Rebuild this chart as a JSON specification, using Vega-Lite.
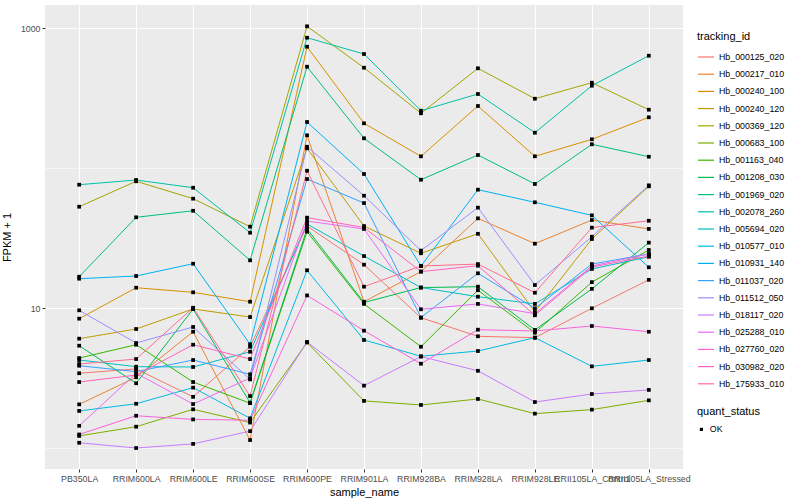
{
  "$schema": "https://vega.github.io/schema/vega-lite/v6.json",
  "autosize": "none",
  "width": 638,
  "height": 464,
  "padding": {"left": 45, "top": 5, "right": 117, "bottom": 31},
  "background": "white",
  "config": {
    "font": "Liberation Sans",
    "view": {"fill": "#EBEBEB", "stroke": null}
  },
  "datasets": {
    "expr": [
      {"tracking_id":"Hb_000125_020","sample_name":"PB350LA","fpkm":3.42,"quant_status":"OK"},
      {"tracking_id":"Hb_000125_020","sample_name":"RRIM600LA","fpkm":3.67,"quant_status":"OK"},
      {"tracking_id":"Hb_000125_020","sample_name":"RRIM600LE","fpkm":2.32,"quant_status":"OK"},
      {"tracking_id":"Hb_000125_020","sample_name":"RRIM600SE","fpkm":5.29,"quant_status":"OK"},
      {"tracking_id":"Hb_000125_020","sample_name":"RRIM600PE","fpkm":38.5,"quant_status":"OK"},
      {"tracking_id":"Hb_000125_020","sample_name":"RRIM901LA","fpkm":20.4,"quant_status":"OK"},
      {"tracking_id":"Hb_000125_020","sample_name":"RRIM928BA","fpkm":8.52,"quant_status":"OK"},
      {"tracking_id":"Hb_000125_020","sample_name":"RRIM928LA","fpkm":6.28,"quant_status":"OK"},
      {"tracking_id":"Hb_000125_020","sample_name":"RRIM928LE","fpkm":6.14,"quant_status":"OK"},
      {"tracking_id":"Hb_000125_020","sample_name":"RRII105LA_Control","fpkm":9.95,"quant_status":"OK"},
      {"tracking_id":"Hb_000125_020","sample_name":"RRII105LA_Stressed","fpkm":15.9,"quant_status":"OK"},
      {"tracking_id":"Hb_000217_010","sample_name":"PB350LA","fpkm":2.05,"quant_status":"OK"},
      {"tracking_id":"Hb_000217_010","sample_name":"RRIM600LA","fpkm":3.2,"quant_status":"OK"},
      {"tracking_id":"Hb_000217_010","sample_name":"RRIM600LE","fpkm":6.77,"quant_status":"OK"},
      {"tracking_id":"Hb_000217_010","sample_name":"RRIM600SE","fpkm":1.14,"quant_status":"OK"},
      {"tracking_id":"Hb_000217_010","sample_name":"RRIM600PE","fpkm":171.2,"quant_status":"OK"},
      {"tracking_id":"Hb_000217_010","sample_name":"RRIM901LA","fpkm":11.09,"quant_status":"OK"},
      {"tracking_id":"Hb_000217_010","sample_name":"RRIM928BA","fpkm":18.2,"quant_status":"OK"},
      {"tracking_id":"Hb_000217_010","sample_name":"RRIM928LA","fpkm":43.7,"quant_status":"OK"},
      {"tracking_id":"Hb_000217_010","sample_name":"RRIM928LE","fpkm":28.8,"quant_status":"OK"},
      {"tracking_id":"Hb_000217_010","sample_name":"RRII105LA_Control","fpkm":42.5,"quant_status":"OK"},
      {"tracking_id":"Hb_000217_010","sample_name":"RRII105LA_Stressed","fpkm":36.7,"quant_status":"OK"},
      {"tracking_id":"Hb_000240_100","sample_name":"PB350LA","fpkm":8.39,"quant_status":"OK"},
      {"tracking_id":"Hb_000240_100","sample_name":"RRIM600LA","fpkm":13.96,"quant_status":"OK"},
      {"tracking_id":"Hb_000240_100","sample_name":"RRIM600LE","fpkm":12.94,"quant_status":"OK"},
      {"tracking_id":"Hb_000240_100","sample_name":"RRIM600SE","fpkm":11.09,"quant_status":"OK"},
      {"tracking_id":"Hb_000240_100","sample_name":"RRIM600PE","fpkm":735.3,"quant_status":"OK"},
      {"tracking_id":"Hb_000240_100","sample_name":"RRIM901LA","fpkm":208.6,"quant_status":"OK"},
      {"tracking_id":"Hb_000240_100","sample_name":"RRIM928BA","fpkm":121.2,"quant_status":"OK"},
      {"tracking_id":"Hb_000240_100","sample_name":"RRIM928LA","fpkm":277.3,"quant_status":"OK"},
      {"tracking_id":"Hb_000240_100","sample_name":"RRIM928LE","fpkm":121.2,"quant_status":"OK"},
      {"tracking_id":"Hb_000240_100","sample_name":"RRII105LA_Control","fpkm":160.3,"quant_status":"OK"},
      {"tracking_id":"Hb_000240_100","sample_name":"RRII105LA_Stressed","fpkm":230.3,"quant_status":"OK"},
      {"tracking_id":"Hb_000240_120","sample_name":"PB350LA","fpkm":6.04,"quant_status":"OK"},
      {"tracking_id":"Hb_000240_120","sample_name":"RRIM600LA","fpkm":7.08,"quant_status":"OK"},
      {"tracking_id":"Hb_000240_120","sample_name":"RRIM600LE","fpkm":9.84,"quant_status":"OK"},
      {"tracking_id":"Hb_000240_120","sample_name":"RRIM600SE","fpkm":8.62,"quant_status":"OK"},
      {"tracking_id":"Hb_000240_120","sample_name":"RRIM600PE","fpkm":138.2,"quant_status":"OK"},
      {"tracking_id":"Hb_000240_120","sample_name":"RRIM901LA","fpkm":38.5,"quant_status":"OK"},
      {"tracking_id":"Hb_000240_120","sample_name":"RRIM928BA","fpkm":24.6,"quant_status":"OK"},
      {"tracking_id":"Hb_000240_120","sample_name":"RRIM928LA","fpkm":33.9,"quant_status":"OK"},
      {"tracking_id":"Hb_000240_120","sample_name":"RRIM928LE","fpkm":9.36,"quant_status":"OK"},
      {"tracking_id":"Hb_000240_120","sample_name":"RRII105LA_Control","fpkm":31.1,"quant_status":"OK"},
      {"tracking_id":"Hb_000240_120","sample_name":"RRII105LA_Stressed","fpkm":74,"quant_status":"OK"},
      {"tracking_id":"Hb_000369_120","sample_name":"PB350LA","fpkm":52.9,"quant_status":"OK"},
      {"tracking_id":"Hb_000369_120","sample_name":"RRIM600LA","fpkm":80.4,"quant_status":"OK"},
      {"tracking_id":"Hb_000369_120","sample_name":"RRIM600LE","fpkm":60.4,"quant_status":"OK"},
      {"tracking_id":"Hb_000369_120","sample_name":"RRIM600SE","fpkm":38.1,"quant_status":"OK"},
      {"tracking_id":"Hb_000369_120","sample_name":"RRIM600PE","fpkm":1028,"quant_status":"OK"},
      {"tracking_id":"Hb_000369_120","sample_name":"RRIM901LA","fpkm":520.5,"quant_status":"OK"},
      {"tracking_id":"Hb_000369_120","sample_name":"RRIM928BA","fpkm":245.9,"quant_status":"OK"},
      {"tracking_id":"Hb_000369_120","sample_name":"RRIM928LA","fpkm":515.4,"quant_status":"OK"},
      {"tracking_id":"Hb_000369_120","sample_name":"RRIM928LE","fpkm":312.6,"quant_status":"OK"},
      {"tracking_id":"Hb_000369_120","sample_name":"RRII105LA_Control","fpkm":406.7,"quant_status":"OK"},
      {"tracking_id":"Hb_000369_120","sample_name":"RRII105LA_Stressed","fpkm":260.9,"quant_status":"OK"},
      {"tracking_id":"Hb_000683_100","sample_name":"PB350LA","fpkm":1.22,"quant_status":"OK"},
      {"tracking_id":"Hb_000683_100","sample_name":"RRIM600LA","fpkm":1.42,"quant_status":"OK"},
      {"tracking_id":"Hb_000683_100","sample_name":"RRIM600LE","fpkm":1.89,"quant_status":"OK"},
      {"tracking_id":"Hb_000683_100","sample_name":"RRIM600SE","fpkm":1.52,"quant_status":"OK"},
      {"tracking_id":"Hb_000683_100","sample_name":"RRIM600PE","fpkm":5.67,"quant_status":"OK"},
      {"tracking_id":"Hb_000683_100","sample_name":"RRIM901LA","fpkm":2.17,"quant_status":"OK"},
      {"tracking_id":"Hb_000683_100","sample_name":"RRIM928BA","fpkm":2.03,"quant_status":"OK"},
      {"tracking_id":"Hb_000683_100","sample_name":"RRIM928LA","fpkm":2.24,"quant_status":"OK"},
      {"tracking_id":"Hb_000683_100","sample_name":"RRIM928LE","fpkm":1.76,"quant_status":"OK"},
      {"tracking_id":"Hb_000683_100","sample_name":"RRII105LA_Control","fpkm":1.88,"quant_status":"OK"},
      {"tracking_id":"Hb_000683_100","sample_name":"RRII105LA_Stressed","fpkm":2.19,"quant_status":"OK"},
      {"tracking_id":"Hb_001163_040","sample_name":"PB350LA","fpkm":4.39,"quant_status":"OK"},
      {"tracking_id":"Hb_001163_040","sample_name":"RRIM600LA","fpkm":5.47,"quant_status":"OK"},
      {"tracking_id":"Hb_001163_040","sample_name":"RRIM600LE","fpkm":2.96,"quant_status":"OK"},
      {"tracking_id":"Hb_001163_040","sample_name":"RRIM600SE","fpkm":2.09,"quant_status":"OK"},
      {"tracking_id":"Hb_001163_040","sample_name":"RRIM600PE","fpkm":35.1,"quant_status":"OK"},
      {"tracking_id":"Hb_001163_040","sample_name":"RRIM901LA","fpkm":10.7,"quant_status":"OK"},
      {"tracking_id":"Hb_001163_040","sample_name":"RRIM928BA","fpkm":5.29,"quant_status":"OK"},
      {"tracking_id":"Hb_001163_040","sample_name":"RRIM928LA","fpkm":13.4,"quant_status":"OK"},
      {"tracking_id":"Hb_001163_040","sample_name":"RRIM928LE","fpkm":6.66,"quant_status":"OK"},
      {"tracking_id":"Hb_001163_040","sample_name":"RRII105LA_Control","fpkm":15.3,"quant_status":"OK"},
      {"tracking_id":"Hb_001163_040","sample_name":"RRII105LA_Stressed","fpkm":25.96,"quant_status":"OK"},
      {"tracking_id":"Hb_001208_030","sample_name":"PB350LA","fpkm":5.38,"quant_status":"OK"},
      {"tracking_id":"Hb_001208_030","sample_name":"RRIM600LA","fpkm":2.9,"quant_status":"OK"},
      {"tracking_id":"Hb_001208_030","sample_name":"RRIM600LE","fpkm":9.84,"quant_status":"OK"},
      {"tracking_id":"Hb_001208_030","sample_name":"RRIM600SE","fpkm":2.11,"quant_status":"OK"},
      {"tracking_id":"Hb_001208_030","sample_name":"RRIM600PE","fpkm":36.7,"quant_status":"OK"},
      {"tracking_id":"Hb_001208_030","sample_name":"RRIM901LA","fpkm":10.95,"quant_status":"OK"},
      {"tracking_id":"Hb_001208_030","sample_name":"RRIM928BA","fpkm":14.0,"quant_status":"OK"},
      {"tracking_id":"Hb_001208_030","sample_name":"RRIM928LA","fpkm":14.2,"quant_status":"OK"},
      {"tracking_id":"Hb_001208_030","sample_name":"RRIM928LE","fpkm":6.97,"quant_status":"OK"},
      {"tracking_id":"Hb_001208_030","sample_name":"RRII105LA_Control","fpkm":13.7,"quant_status":"OK"},
      {"tracking_id":"Hb_001208_030","sample_name":"RRII105LA_Stressed","fpkm":29.3,"quant_status":"OK"},
      {"tracking_id":"Hb_001969_020","sample_name":"PB350LA","fpkm":16.73,"quant_status":"OK"},
      {"tracking_id":"Hb_001969_020","sample_name":"RRIM600LA","fpkm":44.45,"quant_status":"OK"},
      {"tracking_id":"Hb_001969_020","sample_name":"RRIM600LE","fpkm":49.5,"quant_status":"OK"},
      {"tracking_id":"Hb_001969_020","sample_name":"RRIM600SE","fpkm":21.91,"quant_status":"OK"},
      {"tracking_id":"Hb_001969_020","sample_name":"RRIM600PE","fpkm":529.1,"quant_status":"OK"},
      {"tracking_id":"Hb_001969_020","sample_name":"RRIM901LA","fpkm":163.0,"quant_status":"OK"},
      {"tracking_id":"Hb_001969_020","sample_name":"RRIM928BA","fpkm":82.5,"quant_status":"OK"},
      {"tracking_id":"Hb_001969_020","sample_name":"RRIM928LA","fpkm":123.8,"quant_status":"OK"},
      {"tracking_id":"Hb_001969_020","sample_name":"RRIM928LE","fpkm":76.9,"quant_status":"OK"},
      {"tracking_id":"Hb_001969_020","sample_name":"RRII105LA_Control","fpkm":147.7,"quant_status":"OK"},
      {"tracking_id":"Hb_001969_020","sample_name":"RRII105LA_Stressed","fpkm":120.4,"quant_status":"OK"},
      {"tracking_id":"Hb_002078_260","sample_name":"PB350LA","fpkm":76.0,"quant_status":"OK"},
      {"tracking_id":"Hb_002078_260","sample_name":"RRIM600LA","fpkm":82.1,"quant_status":"OK"},
      {"tracking_id":"Hb_002078_260","sample_name":"RRIM600LE","fpkm":72.3,"quant_status":"OK"},
      {"tracking_id":"Hb_002078_260","sample_name":"RRIM600SE","fpkm":34.5,"quant_status":"OK"},
      {"tracking_id":"Hb_002078_260","sample_name":"RRIM600PE","fpkm":852.6,"quant_status":"OK"},
      {"tracking_id":"Hb_002078_260","sample_name":"RRIM901LA","fpkm":652.1,"quant_status":"OK"},
      {"tracking_id":"Hb_002078_260","sample_name":"RRIM928BA","fpkm":256.6,"quant_status":"OK"},
      {"tracking_id":"Hb_002078_260","sample_name":"RRIM928LA","fpkm":337.8,"quant_status":"OK"},
      {"tracking_id":"Hb_002078_260","sample_name":"RRIM928LE","fpkm":178.7,"quant_status":"OK"},
      {"tracking_id":"Hb_002078_260","sample_name":"RRII105LA_Control","fpkm":387.1,"quant_status":"OK"},
      {"tracking_id":"Hb_002078_260","sample_name":"RRII105LA_Stressed","fpkm":634.1,"quant_status":"OK"},
      {"tracking_id":"Hb_005694_020","sample_name":"PB350LA","fpkm":4.25,"quant_status":"OK"},
      {"tracking_id":"Hb_005694_020","sample_name":"RRIM600LA","fpkm":3.81,"quant_status":"OK"},
      {"tracking_id":"Hb_005694_020","sample_name":"RRIM600LE","fpkm":3.79,"quant_status":"OK"},
      {"tracking_id":"Hb_005694_020","sample_name":"RRIM600SE","fpkm":4.87,"quant_status":"OK"},
      {"tracking_id":"Hb_005694_020","sample_name":"RRIM600PE","fpkm":39.8,"quant_status":"OK"},
      {"tracking_id":"Hb_005694_020","sample_name":"RRIM901LA","fpkm":23.5,"quant_status":"OK"},
      {"tracking_id":"Hb_005694_020","sample_name":"RRIM928BA","fpkm":14.0,"quant_status":"OK"},
      {"tracking_id":"Hb_005694_020","sample_name":"RRIM928LA","fpkm":12.04,"quant_status":"OK"},
      {"tracking_id":"Hb_005694_020","sample_name":"RRIM928LE","fpkm":10.7,"quant_status":"OK"},
      {"tracking_id":"Hb_005694_020","sample_name":"RRII105LA_Control","fpkm":19.0,"quant_status":"OK"},
      {"tracking_id":"Hb_005694_020","sample_name":"RRII105LA_Stressed","fpkm":23.2,"quant_status":"OK"},
      {"tracking_id":"Hb_010577_010","sample_name":"PB350LA","fpkm":1.84,"quant_status":"OK"},
      {"tracking_id":"Hb_010577_010","sample_name":"RRIM600LA","fpkm":2.07,"quant_status":"OK"},
      {"tracking_id":"Hb_010577_010","sample_name":"RRIM600LE","fpkm":2.7,"quant_status":"OK"},
      {"tracking_id":"Hb_010577_010","sample_name":"RRIM600SE","fpkm":1.63,"quant_status":"OK"},
      {"tracking_id":"Hb_010577_010","sample_name":"RRIM600PE","fpkm":18.6,"quant_status":"OK"},
      {"tracking_id":"Hb_010577_010","sample_name":"RRIM901LA","fpkm":5.91,"quant_status":"OK"},
      {"tracking_id":"Hb_010577_010","sample_name":"RRIM928BA","fpkm":4.52,"quant_status":"OK"},
      {"tracking_id":"Hb_010577_010","sample_name":"RRIM928LA","fpkm":4.93,"quant_status":"OK"},
      {"tracking_id":"Hb_010577_010","sample_name":"RRIM928LE","fpkm":6.14,"quant_status":"OK"},
      {"tracking_id":"Hb_010577_010","sample_name":"RRII105LA_Control","fpkm":3.83,"quant_status":"OK"},
      {"tracking_id":"Hb_010577_010","sample_name":"RRII105LA_Stressed","fpkm":4.25,"quant_status":"OK"},
      {"tracking_id":"Hb_010931_140","sample_name":"PB350LA","fpkm":16.19,"quant_status":"OK"},
      {"tracking_id":"Hb_010931_140","sample_name":"RRIM600LA","fpkm":16.93,"quant_status":"OK"},
      {"tracking_id":"Hb_010931_140","sample_name":"RRIM600LE","fpkm":20.72,"quant_status":"OK"},
      {"tracking_id":"Hb_010931_140","sample_name":"RRIM600SE","fpkm":5.51,"quant_status":"OK"},
      {"tracking_id":"Hb_010931_140","sample_name":"RRIM600PE","fpkm":213.1,"quant_status":"OK"},
      {"tracking_id":"Hb_010931_140","sample_name":"RRIM901LA","fpkm":90.6,"quant_status":"OK"},
      {"tracking_id":"Hb_010931_140","sample_name":"RRIM928BA","fpkm":19.95,"quant_status":"OK"},
      {"tracking_id":"Hb_010931_140","sample_name":"RRIM928LA","fpkm":70.0,"quant_status":"OK"},
      {"tracking_id":"Hb_010931_140","sample_name":"RRIM928LE","fpkm":56.9,"quant_status":"OK"},
      {"tracking_id":"Hb_010931_140","sample_name":"RRII105LA_Control","fpkm":45.9,"quant_status":"OK"},
      {"tracking_id":"Hb_010931_140","sample_name":"RRII105LA_Stressed","fpkm":19.53,"quant_status":"OK"},
      {"tracking_id":"Hb_011037_020","sample_name":"PB350LA","fpkm":3.87,"quant_status":"OK"},
      {"tracking_id":"Hb_011037_020","sample_name":"RRIM600LA","fpkm":3.51,"quant_status":"OK"},
      {"tracking_id":"Hb_011037_020","sample_name":"RRIM600LE","fpkm":4.25,"quant_status":"OK"},
      {"tracking_id":"Hb_011037_020","sample_name":"RRIM600SE","fpkm":3.36,"quant_status":"OK"},
      {"tracking_id":"Hb_011037_020","sample_name":"RRIM600PE","fpkm":83.4,"quant_status":"OK"},
      {"tracking_id":"Hb_011037_020","sample_name":"RRIM901LA","fpkm":56.2,"quant_status":"OK"},
      {"tracking_id":"Hb_011037_020","sample_name":"RRIM928BA","fpkm":8.55,"quant_status":"OK"},
      {"tracking_id":"Hb_011037_020","sample_name":"RRIM928LA","fpkm":17.7,"quant_status":"OK"},
      {"tracking_id":"Hb_011037_020","sample_name":"RRIM928LE","fpkm":9.95,"quant_status":"OK"},
      {"tracking_id":"Hb_011037_020","sample_name":"RRII105LA_Control","fpkm":20.6,"quant_status":"OK"},
      {"tracking_id":"Hb_011037_020","sample_name":"RRII105LA_Stressed","fpkm":24.3,"quant_status":"OK"},
      {"tracking_id":"Hb_011512_050","sample_name":"PB350LA","fpkm":9.63,"quant_status":"OK"},
      {"tracking_id":"Hb_011512_050","sample_name":"RRIM600LA","fpkm":5.62,"quant_status":"OK"},
      {"tracking_id":"Hb_011512_050","sample_name":"RRIM600LE","fpkm":7.32,"quant_status":"OK"},
      {"tracking_id":"Hb_011512_050","sample_name":"RRIM600SE","fpkm":3.09,"quant_status":"OK"},
      {"tracking_id":"Hb_011512_050","sample_name":"RRIM600PE","fpkm":141.9,"quant_status":"OK"},
      {"tracking_id":"Hb_011512_050","sample_name":"RRIM901LA","fpkm":63.4,"quant_status":"OK"},
      {"tracking_id":"Hb_011512_050","sample_name":"RRIM928BA","fpkm":25.7,"quant_status":"OK"},
      {"tracking_id":"Hb_011512_050","sample_name":"RRIM928LA","fpkm":52.1,"quant_status":"OK"},
      {"tracking_id":"Hb_011512_050","sample_name":"RRIM928LE","fpkm":14.6,"quant_status":"OK"},
      {"tracking_id":"Hb_011512_050","sample_name":"RRII105LA_Control","fpkm":32.3,"quant_status":"OK"},
      {"tracking_id":"Hb_011512_050","sample_name":"RRII105LA_Stressed","fpkm":75.2,"quant_status":"OK"},
      {"tracking_id":"Hb_018117_020","sample_name":"PB350LA","fpkm":1.09,"quant_status":"OK"},
      {"tracking_id":"Hb_018117_020","sample_name":"RRIM600LA","fpkm":1.0,"quant_status":"OK"},
      {"tracking_id":"Hb_018117_020","sample_name":"RRIM600LE","fpkm":1.07,"quant_status":"OK"},
      {"tracking_id":"Hb_018117_020","sample_name":"RRIM600SE","fpkm":1.32,"quant_status":"OK"},
      {"tracking_id":"Hb_018117_020","sample_name":"RRIM600PE","fpkm":5.72,"quant_status":"OK"},
      {"tracking_id":"Hb_018117_020","sample_name":"RRIM901LA","fpkm":2.79,"quant_status":"OK"},
      {"tracking_id":"Hb_018117_020","sample_name":"RRIM928BA","fpkm":4.5,"quant_status":"OK"},
      {"tracking_id":"Hb_018117_020","sample_name":"RRIM928LA","fpkm":3.56,"quant_status":"OK"},
      {"tracking_id":"Hb_018117_020","sample_name":"RRIM928LE","fpkm":2.13,"quant_status":"OK"},
      {"tracking_id":"Hb_018117_020","sample_name":"RRII105LA_Control","fpkm":2.43,"quant_status":"OK"},
      {"tracking_id":"Hb_018117_020","sample_name":"RRII105LA_Stressed","fpkm":2.6,"quant_status":"OK"},
      {"tracking_id":"Hb_025288_010","sample_name":"PB350LA","fpkm":1.44,"quant_status":"OK"},
      {"tracking_id":"Hb_025288_010","sample_name":"RRIM600LA","fpkm":3.42,"quant_status":"OK"},
      {"tracking_id":"Hb_025288_010","sample_name":"RRIM600LE","fpkm":2.06,"quant_status":"OK"},
      {"tracking_id":"Hb_025288_010","sample_name":"RRIM600SE","fpkm":3.16,"quant_status":"OK"},
      {"tracking_id":"Hb_025288_010","sample_name":"RRIM600PE","fpkm":41.8,"quant_status":"OK"},
      {"tracking_id":"Hb_025288_010","sample_name":"RRIM901LA","fpkm":36.7,"quant_status":"OK"},
      {"tracking_id":"Hb_025288_010","sample_name":"RRIM928BA","fpkm":9.79,"quant_status":"OK"},
      {"tracking_id":"Hb_025288_010","sample_name":"RRIM928LA","fpkm":10.7,"quant_status":"OK"},
      {"tracking_id":"Hb_025288_010","sample_name":"RRIM928LE","fpkm":9.11,"quant_status":"OK"},
      {"tracking_id":"Hb_025288_010","sample_name":"RRII105LA_Control","fpkm":19.95,"quant_status":"OK"},
      {"tracking_id":"Hb_025288_010","sample_name":"RRII105LA_Stressed","fpkm":24.3,"quant_status":"OK"},
      {"tracking_id":"Hb_027760_020","sample_name":"PB350LA","fpkm":1.25,"quant_status":"OK"},
      {"tracking_id":"Hb_027760_020","sample_name":"RRIM600LA","fpkm":1.7,"quant_status":"OK"},
      {"tracking_id":"Hb_027760_020","sample_name":"RRIM600LE","fpkm":1.6,"quant_status":"OK"},
      {"tracking_id":"Hb_027760_020","sample_name":"RRIM600SE","fpkm":1.58,"quant_status":"OK"},
      {"tracking_id":"Hb_027760_020","sample_name":"RRIM600PE","fpkm":12.3,"quant_status":"OK"},
      {"tracking_id":"Hb_027760_020","sample_name":"RRIM901LA","fpkm":6.89,"quant_status":"OK"},
      {"tracking_id":"Hb_027760_020","sample_name":"RRIM928BA","fpkm":4.0,"quant_status":"OK"},
      {"tracking_id":"Hb_027760_020","sample_name":"RRIM928LA","fpkm":7.0,"quant_status":"OK"},
      {"tracking_id":"Hb_027760_020","sample_name":"RRIM928LE","fpkm":6.85,"quant_status":"OK"},
      {"tracking_id":"Hb_027760_020","sample_name":"RRII105LA_Control","fpkm":7.44,"quant_status":"OK"},
      {"tracking_id":"Hb_027760_020","sample_name":"RRII105LA_Stressed","fpkm":6.77,"quant_status":"OK"},
      {"tracking_id":"Hb_030982_020","sample_name":"PB350LA","fpkm":2.96,"quant_status":"OK"},
      {"tracking_id":"Hb_030982_020","sample_name":"RRIM600LA","fpkm":3.32,"quant_status":"OK"},
      {"tracking_id":"Hb_030982_020","sample_name":"RRIM600LE","fpkm":5.47,"quant_status":"OK"},
      {"tracking_id":"Hb_030982_020","sample_name":"RRIM600SE","fpkm":4.32,"quant_status":"OK"},
      {"tracking_id":"Hb_030982_020","sample_name":"RRIM600PE","fpkm":44.2,"quant_status":"OK"},
      {"tracking_id":"Hb_030982_020","sample_name":"RRIM901LA","fpkm":37.6,"quant_status":"OK"},
      {"tracking_id":"Hb_030982_020","sample_name":"RRIM928BA","fpkm":18.2,"quant_status":"OK"},
      {"tracking_id":"Hb_030982_020","sample_name":"RRIM928LA","fpkm":20.05,"quant_status":"OK"},
      {"tracking_id":"Hb_030982_020","sample_name":"RRIM928LE","fpkm":8.87,"quant_status":"OK"},
      {"tracking_id":"Hb_030982_020","sample_name":"RRII105LA_Control","fpkm":19.6,"quant_status":"OK"},
      {"tracking_id":"Hb_030982_020","sample_name":"RRII105LA_Stressed","fpkm":23.5,"quant_status":"OK"},
      {"tracking_id":"Hb_175933_010","sample_name":"PB350LA","fpkm":3.98,"quant_status":"OK"},
      {"tracking_id":"Hb_175933_010","sample_name":"RRIM600LA","fpkm":4.32,"quant_status":"OK"},
      {"tracking_id":"Hb_175933_010","sample_name":"RRIM600LE","fpkm":10.05,"quant_status":"OK"},
      {"tracking_id":"Hb_175933_010","sample_name":"RRIM600SE","fpkm":2.35,"quant_status":"OK"},
      {"tracking_id":"Hb_175933_010","sample_name":"RRIM600PE","fpkm":95.6,"quant_status":"OK"},
      {"tracking_id":"Hb_175933_010","sample_name":"RRIM901LA","fpkm":14.2,"quant_status":"OK"},
      {"tracking_id":"Hb_175933_010","sample_name":"RRIM928BA","fpkm":19.95,"quant_status":"OK"},
      {"tracking_id":"Hb_175933_010","sample_name":"RRIM928LA","fpkm":20.6,"quant_status":"OK"},
      {"tracking_id":"Hb_175933_010","sample_name":"RRIM928LE","fpkm":12.86,"quant_status":"OK"},
      {"tracking_id":"Hb_175933_010","sample_name":"RRII105LA_Control","fpkm":37.5,"quant_status":"OK"},
      {"tracking_id":"Hb_175933_010","sample_name":"RRII105LA_Stressed","fpkm":42.0,"quant_status":"OK"}
    ]
  },
  "data": {"name": "expr"},
  "encoding": {
    "x": {
      "field": "sample_name",
      "type": "nominal",
      "sort": ["PB350LA","RRIM600LA","RRIM600LE","RRIM600SE","RRIM600PE","RRIM901LA","RRIM928BA","RRIM928LA","RRIM928LE","RRII105LA_Control","RRII105LA_Stressed"],
      "scale": {"type": "point", "padding": 0.6},
      "axis": {
        "title": "sample_name",
        "titleFontSize": 11,
        "titleFontWeight": "normal",
        "titleColor": "black",
        "titlePadding": 4,
        "labelAngle": 0,
        "labelOverlap": false,
        "labelFontSize": 8.8,
        "labelColor": "#4D4D4D",
        "labelPadding": 2,
        "tickColor": "#333333",
        "tickSize": 3,
        "domain": false,
        "grid": true,
        "gridColor": "white",
        "gridWidth": 1.1
      }
    },
    "y": {
      "field": "fpkm",
      "type": "quantitative",
      "scale": {"type": "log", "domain": [0.708, 1460], "nice": false, "zero": false},
      "axis": {
        "title": "FPKM + 1",
        "titleFontSize": 11,
        "titleFontWeight": "normal",
        "titleColor": "black",
        "titlePadding": 8,
        "values": [1, 10, 100, 1000],
        "format": "d",
        "labelExpr": "datum.value == 10 || datum.value == 1000 ? datum.label : ''",
        "labelFontSize": 8.8,
        "labelColor": "#4D4D4D",
        "labelPadding": 2,
        "tickColor": "#333333",
        "tickSize": 3,
        "tickOpacity": {"condition": {"test": "datum.value == 1 || datum.value == 100", "value": 0}, "value": 1},
        "domain": false,
        "grid": true,
        "gridColor": "white",
        "gridWidth": {"condition": {"test": "datum.value == 1 || datum.value == 100", "value": 0.55}, "value": 1.1}
      }
    }
  },
  "layer": [
    {
      "mark": {"type": "line", "strokeWidth": 1},
      "encoding": {
        "order": {"value": null},
        "color": {
          "field": "tracking_id",
          "type": "nominal",
          "scale": {
            "domain": ["Hb_000125_020","Hb_000217_010","Hb_000240_100","Hb_000240_120","Hb_000369_120","Hb_000683_100","Hb_001163_040","Hb_001208_030","Hb_001969_020","Hb_002078_260","Hb_005694_020","Hb_010577_010","Hb_010931_140","Hb_011037_020","Hb_011512_050","Hb_018117_020","Hb_025288_010","Hb_027760_020","Hb_030982_020","Hb_175933_010"],
            "range": ["#F8766D","#EA8331","#D89000","#C09B00","#A3A500","#7CAE00","#39B600","#00BB4E","#00BF7D","#00C1A3","#00BFC4","#00BAE0","#00B0F6","#35A2FF","#9590FF","#C77CFF","#E76BF3","#FA62DB","#FF62BC","#FF6C91"]
          },
          "legend": {
            "title": "tracking_id",
            "orient": "none",
            "legendX": 652,
            "legendY": 26,
            "titleFontSize": 11,
            "titleFontWeight": "normal",
            "titleColor": "black",
            "titlePadding": 6,
            "labelFontSize": 8.8,
            "labelColor": "black",
            "labelOffset": 4,
            "symbolType": "stroke",
            "symbolStrokeWidth": 1.2,
            "symbolSize": 256,
            "rowPadding": 3.2
          }
        }
      }
    },
    {
      "mark": {"type": "point", "filled": true, "size": 14, "color": "black", "opacity": 1},
      "encoding": {
        "shape": {
          "field": "quant_status",
          "type": "nominal",
          "scale": {"range": ["square"]},
          "legend": {
            "title": "quant_status",
            "orient": "none",
            "legendX": 652,
            "legendY": 401,
            "titleFontSize": 11,
            "titleFontWeight": "normal",
            "titleColor": "black",
            "titlePadding": 8,
            "labelFontSize": 8.8,
            "labelColor": "black",
            "labelOffset": 4,
            "symbolFillColor": "black",
            "symbolStrokeColor": "black",
            "symbolSize": 10
          }
        }
      }
    }
  ]
}
